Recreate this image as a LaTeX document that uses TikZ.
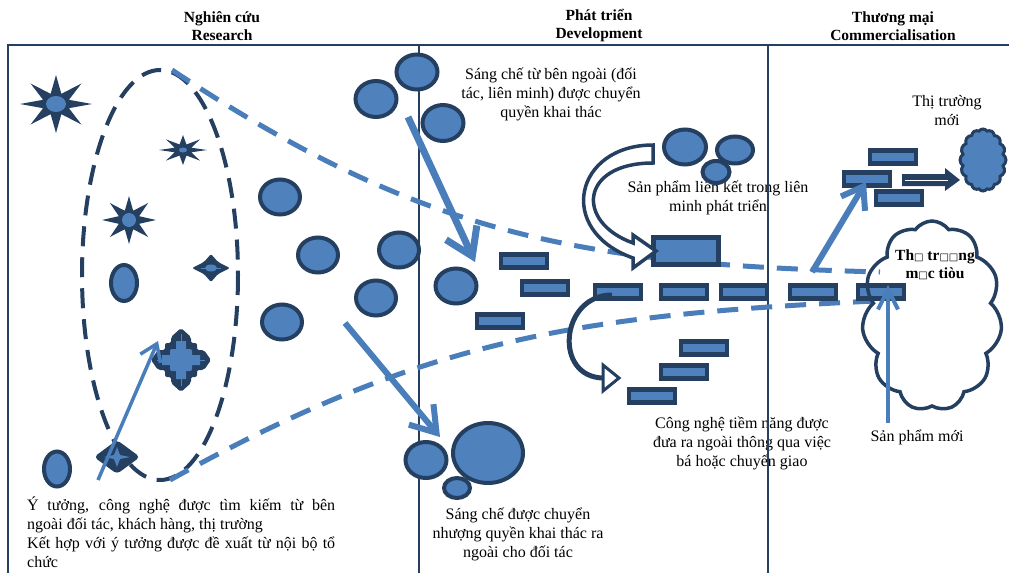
\documentclass[tikz,border=0pt]{standalone}
\usepackage{fontspec}
\setmainfont{Liberation Serif}
\newfontfamily\symfont{DejaVu Sans}
\usetikzlibrary{shapes.geometric,shapes.symbols,arrows.meta}
\definecolor{navy}{HTML}{243F60}
\definecolor{blueF}{HTML}{4F81BD}
\definecolor{blueL}{HTML}{4A7EBB}
\newcommand\bxg{{\symfont\fontsize{10}{10}\selectfont □}}
\begin{document}
\begin{tikzpicture}[x=1pt,y=-1pt,
  txt/.style={font=\fontsize{16}{19}\selectfont, align=center, inner sep=0},
  hdr/.style={font=\bfseries\fontsize{15.5}{18}\selectfont, align=center, inner sep=0},
  circ/.style={ellipse, draw=navy, fill=blueF, line width=4pt, inner sep=0},
  bar/.style={rectangle, draw=navy, fill=blueF, line width=4.5pt, inner sep=0, minimum width=46pt, minimum height=13pt},
  frame/.style={draw=navy, line width=2.5pt},
  bdash/.style={draw=blueL, line width=5pt, dash pattern=on 21pt off 13pt},
  barrow/.style={draw=blueL, line width=#1},
]
\useasboundingbox (0,0) rectangle (1009,573);

% ---------- headers ----------
\node[hdr] (h1) at (222,26) {Nghiên cứu\\Research};
\node[hdr] (h2) at (599,26) {Phát triển\\Development};
\node[hdr] (h3) at (893,26) {Thương mại\\Commercialisation};

% ---------- texts ----------
\node[txt] (tA) at (551,94) {Sáng chế từ bên ngoài (đối\\tác, liên minh) được chuyển\\quyền khai thác};
\node[txt] (tB) at (718,198) {Sản phẩm liên kết trong liên\\minh phát triển};
\node[txt] (tC) at (742,443) {Công nghệ tiềm năng được\\đưa ra ngoài thông qua việc\\bá hoặc chuyển giao};
\node[txt] (tD) at (518,534) {Sáng chế được chuyển\\nhượng quyền khai thác ra\\ngoài cho đối tác};
\node[txt] (tE) at (947,111) {Thị trường\\mới};
\node[txt] (tF) at (917,437) {Sản phẩm mới};
\node[txt, align=left, anchor=north west] (tG) at (27,497) {\makebox[308pt][s]{Ý tưởng, công nghệ được tìm kiếm từ bên}\\ngoài đối tác, khách hàng, thị trường\\\makebox[308pt][s]{Kết hợp với ý tưởng được đề xuất từ nội bộ tổ}\\chức};

% ---------- frame ----------
\draw[frame] (8,573) -- (8,45) -- (1009,45);
\draw[frame] (419,45) -- (419,573);
\draw[frame] (768,45) -- (768,573);

% ---------- dashed funnel ----------
\draw[navy, line width=4pt, dash pattern=on 20pt off 11pt] (160,275) ellipse (78 and 205);
\coordinate (u0) at (172,70);
\coordinate (u1) at (880,272);
\coordinate (l0) at (170,480);
\coordinate (l1) at (875,301);
\draw[bdash] (u0) .. controls (422,236) and (580,264) .. (u1);
\draw[bdash] (l0) .. controls (422,340) and (575,315) .. (l1);

% ---------- research glyphs ----------
\begin{scope}[shift={(56,104)}]
  \fill[navy] (0:36 and 29) \foreach \a in {0,45,...,315} { -- ({\a+22.5}:14 and 11) -- ({\a+45}:36 and 29) } -- cycle;
  \fill[blueF] (0,0) ellipse (10 and 8);
\end{scope}
\begin{scope}[shift={(183,150)}]
  \fill[navy] (0:24 and 15) \foreach \a in {0,45,...,315} { -- ({\a+22.5}:9 and 6) -- ({\a+45}:24 and 15) } -- cycle;
  \fill[blueF] (0,0) ellipse (4 and 2.5);
\end{scope}
\begin{scope}[shift={(129,220)}]
  \fill[navy] (0:27 and 24) \foreach \a in {0,45,...,315} { -- ({\a+22.5}:11 and 10) -- ({\a+45}:27 and 24) } -- cycle;
  \fill[blueF] (0,0) circle (7);
\end{scope}
\begin{scope}[shift={(211,268)}]
  \fill[navy, rounded corners=2pt] (19,0) -- (7,6) -- (0,14) -- (-7,6) -- (-19,0) -- (-7,-6) -- (0,-14) -- (-7+14,-6) -- cycle;
  \fill[blueF] (0,0) ellipse (6 and 3.5);
  \draw[blueF, line width=0.8pt] (-10,0) -- (10,0);
\end{scope}
\begin{scope}[shift={(181,360)}]
  \fill[navy, rounded corners=2pt] (0,-32) -- (10,-23) -- (10,-17) -- (16,-17) -- (16,-10) -- (23,-10) -- (30,0) -- (23,10) -- (16,10) -- (16,17) -- (10,17) -- (10,23) -- (0,32) -- (-10,23) -- (-10,17) -- (-16,17) -- (-16,10) -- (-23,10) -- (-30,0) -- (-23,-10) -- (-16,-10) -- (-16,-17) -- (-10,-17) -- (-10,-23) -- cycle;
  \fill[blueF, rounded corners=2pt] (-11,-11) rectangle (11,11);
  \fill[blueF] (-5,-11) rectangle (5,-19) (-5,11) rectangle (5,19) (-11,-5) rectangle (-19,5) (11,-5) rectangle (19,5);
  \draw[blueF, line width=1pt] (0,-26) -- (0,26) (-24,0) -- (24,0);
\end{scope}
\begin{scope}[shift={(117,457)}]
  \fill[navy, rounded corners=4pt] (23,0) -- (0,17) -- (-23,0) -- (0,-17) -- cycle;
  \fill[blueF] (13,0) -- (3,2) -- (0,10) -- (-3,2) -- (-13,0) -- (-3,-2) -- (0,-10) -- (3,-2) -- cycle;
  \fill[blueF] (0,0) circle (4);
\end{scope}
\node[circ, minimum width=26pt, minimum height=36pt] (e1) at (124,283) {};
\node[circ, minimum width=26pt, minimum height=35pt] (e2) at (57,469) {};

% ---------- circles ----------
\node[circ, minimum width=40pt, minimum height=35pt] (c1) at (280,197) {};
\node[circ, minimum width=40pt, minimum height=35pt] (c2) at (318,255) {};
\node[circ, minimum width=40pt, minimum height=35pt] (c3) at (399,250) {};
\node[circ, minimum width=40pt, minimum height=35pt] (c4) at (376,298) {};
\node[circ, minimum width=40pt, minimum height=35pt] (c5) at (282,322) {};
\node[circ, minimum width=41pt, minimum height=35pt] (t1) at (417,72) {};
\node[circ, minimum width=41pt, minimum height=36pt] (t2) at (376,99) {};
\node[circ, minimum width=41pt, minimum height=36pt] (t3) at (443,123) {};
\node[circ, minimum width=41pt, minimum height=35pt] (m1) at (456,286) {};
\node[circ, minimum width=70pt, minimum height=60pt] (b1) at (488,453) {};
\node[circ, minimum width=41pt, minimum height=36pt] (b2) at (426,460) {};
\node[circ, minimum width=26pt, minimum height=20pt] (b3) at (457,488) {};
\node[circ, minimum width=42pt, minimum height=35pt] (d1) at (685,147) {};
\node[circ, minimum width=36pt, minimum height=27pt] (d2) at (735,150) {};
\node[circ, minimum width=27pt, minimum height=22pt] (d3) at (716,172) {};

% ---------- bars ----------
\node[bar] (r1) at (524,261) {};
\node[bar] (r2) at (545,288) {};
\node[bar] (r3) at (500,321) {};
\node[bar] (r4) at (618,292) {};
\node[bar] (r5) at (684,292) {};
\node[bar] (r6) at (744,292) {};
\node[bar] (r7) at (813,292) {};
\node[bar] (r8) at (881,292) {};
\node[bar] (r9) at (704,348) {};
\node[bar] (r10) at (684,372) {};
\node[bar] (r11) at (652,396) {};
\node[bar] (k1) at (893,157) {};
\node[bar] (k2) at (867,179) {};
\node[bar] (k3) at (899,198) {};
\node[bar, minimum width=65pt, minimum height=27pt] (R) at (686,251) {};

% ---------- clouds ----------
\node[cloud, cloud puffs=11, cloud puff arc=110, draw=navy, line width=3.5pt, minimum width=140pt, minimum height=190pt, inner sep=0] (bigcloud) at (932,316) {};
\node[cloud, cloud puffs=16, cloud puff arc=110, draw=navy, fill=blueF, line width=3pt, minimum width=46pt, minimum height=62pt, inner sep=0] (smallcloud) at (983,160) {};
\node[font=\bfseries\fontsize{15.5}{18}\selectfont, align=center, inner sep=0] (tH) at (935,265) {Th\bxg{} tr\bxg\bxg ng\\m\bxg c tiòu};

% ---------- block arrow to new market ----------
\fill[navy] (902,174) -- (945,174) -- (945,168) -- (960,180) -- (945,191) -- (945,186) -- (902,186) -- cycle;
\draw[white, line width=0.8pt] (905,180) -- (948,180);

% ---------- curved arrows ----------
\draw[navy, line width=3.5pt, fill=white, line join=miter]
  (653,145) .. controls (575,145) and (555,230) .. (633,258)
  -- (633,268) -- (656,251) -- (633,235) -- (633,243)
  .. controls (575,222) and (580,163) .. (653,163) -- cycle;
\coordinate (na0) at (612,295);
\coordinate (na1) at (604,378);
\draw[navy, line width=5pt] (na0) .. controls (560,295) and (553,378) .. (na1);
\draw[navy, line width=3pt, fill=white, line join=miter] (603,365) -- (619,378) -- (603,391) -- cycle;

% ---------- blue arrows ----------
\coordinate (a0) at (98,480);   \coordinate (a1) at (158,341);
\coordinate (a2) at (408,117);  \coordinate (a3) at (475,262);
\coordinate (a4) at (345,323);  \coordinate (a5) at (440,437);
\coordinate (a6) at (812,272);  \coordinate (a7) at (866,182);
\coordinate (a8) at (888,423);  \coordinate (a9) at (888,285);
\draw[barrow=3.5pt, -{Straight Barb[length=16pt,width=22pt]}] (a0) -- (a1);
\draw[barrow=7pt, -{Straight Barb[length=26pt,width=34pt]}] (a2) -- (a3);
\draw[barrow=6pt, -{Straight Barb[length=24pt,width=32pt]}] (a4) -- (a5);
\draw[barrow=6pt, -{Straight Barb[length=20pt,width=28pt]}] (a6) -- (a7);
\draw[barrow=4pt, -{Straight Barb[length=20pt,width=20pt]}] (a8) -- (a9);
\end{tikzpicture}
\end{document}
